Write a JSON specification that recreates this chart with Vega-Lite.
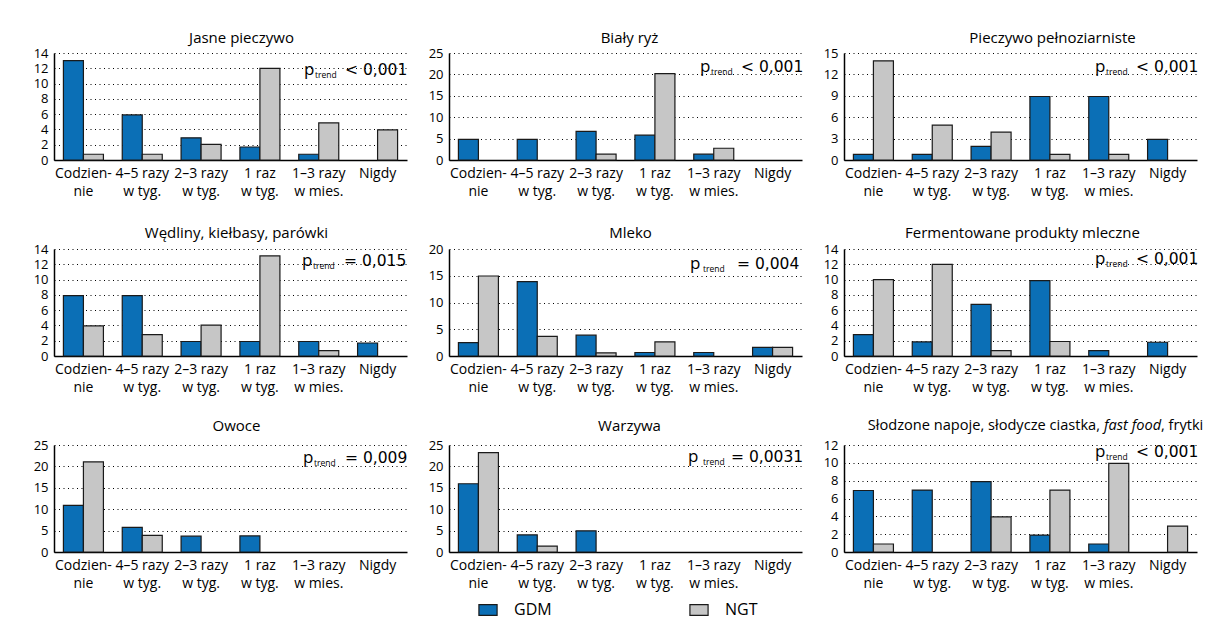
{
  "$schema": "https://vega.github.io/schema/vega-lite/v6.json",
  "background": "white",
  "padding": {"left": 33, "top": 31, "right": 5, "bottom": 5},
  "datasets": {
    "bars": [
      {"panel": "Jasne pieczywo", "freq": "Codziennie", "group": "GDM", "value": 13},
      {"panel": "Jasne pieczywo", "freq": "4–5 razy w tyg.", "group": "GDM", "value": 5.9},
      {"panel": "Jasne pieczywo", "freq": "2–3 razy w tyg.", "group": "GDM", "value": 2.9},
      {"panel": "Jasne pieczywo", "freq": "1 raz w tyg.", "group": "GDM", "value": 1.7},
      {"panel": "Jasne pieczywo", "freq": "1–3 razy w mies.", "group": "GDM", "value": 0.75},
      {"panel": "Jasne pieczywo", "freq": "Nigdy", "group": "GDM", "value": 0},
      {"panel": "Jasne pieczywo", "freq": "Codziennie", "group": "NGT", "value": 0.75},
      {"panel": "Jasne pieczywo", "freq": "4–5 razy w tyg.", "group": "NGT", "value": 0.75},
      {"panel": "Jasne pieczywo", "freq": "2–3 razy w tyg.", "group": "NGT", "value": 2.05},
      {"panel": "Jasne pieczywo", "freq": "1 raz w tyg.", "group": "NGT", "value": 12},
      {"panel": "Jasne pieczywo", "freq": "1–3 razy w mies.", "group": "NGT", "value": 4.85},
      {"panel": "Jasne pieczywo", "freq": "Nigdy", "group": "NGT", "value": 3.95},

      {"panel": "Biały ryż", "freq": "Codziennie", "group": "GDM", "value": 4.8},
      {"panel": "Biały ryż", "freq": "4–5 razy w tyg.", "group": "GDM", "value": 4.8},
      {"panel": "Biały ryż", "freq": "2–3 razy w tyg.", "group": "GDM", "value": 6.7},
      {"panel": "Biały ryż", "freq": "1 raz w tyg.", "group": "GDM", "value": 5.8},
      {"panel": "Biały ryż", "freq": "1–3 razy w mies.", "group": "GDM", "value": 1.35},
      {"panel": "Biały ryż", "freq": "Nigdy", "group": "GDM", "value": 0},
      {"panel": "Biały ryż", "freq": "Codziennie", "group": "NGT", "value": 0},
      {"panel": "Biały ryż", "freq": "4–5 razy w tyg.", "group": "NGT", "value": 0},
      {"panel": "Biały ryż", "freq": "2–3 razy w tyg.", "group": "NGT", "value": 1.35},
      {"panel": "Biały ryż", "freq": "1 raz w tyg.", "group": "NGT", "value": 20.2},
      {"panel": "Biały ryż", "freq": "1–3 razy w mies.", "group": "NGT", "value": 2.75},
      {"panel": "Biały ryż", "freq": "Nigdy", "group": "NGT", "value": 0},

      {"panel": "Pieczywo pełnoziarniste", "freq": "Codziennie", "group": "GDM", "value": 0.8},
      {"panel": "Pieczywo pełnoziarniste", "freq": "4–5 razy w tyg.", "group": "GDM", "value": 0.8},
      {"panel": "Pieczywo pełnoziarniste", "freq": "2–3 razy w tyg.", "group": "GDM", "value": 1.9},
      {"panel": "Pieczywo pełnoziarniste", "freq": "1 raz w tyg.", "group": "GDM", "value": 8.9},
      {"panel": "Pieczywo pełnoziarniste", "freq": "1–3 razy w mies.", "group": "GDM", "value": 8.9},
      {"panel": "Pieczywo pełnoziarniste", "freq": "Nigdy", "group": "GDM", "value": 2.9},
      {"panel": "Pieczywo pełnoziarniste", "freq": "Codziennie", "group": "NGT", "value": 13.9},
      {"panel": "Pieczywo pełnoziarniste", "freq": "4–5 razy w tyg.", "group": "NGT", "value": 4.9},
      {"panel": "Pieczywo pełnoziarniste", "freq": "2–3 razy w tyg.", "group": "NGT", "value": 3.9},
      {"panel": "Pieczywo pełnoziarniste", "freq": "1 raz w tyg.", "group": "NGT", "value": 0.8},
      {"panel": "Pieczywo pełnoziarniste", "freq": "1–3 razy w mies.", "group": "NGT", "value": 0.8},
      {"panel": "Pieczywo pełnoziarniste", "freq": "Nigdy", "group": "NGT", "value": 0},

      {"panel": "Wędliny, kiełbasy, parówki", "freq": "Codziennie", "group": "GDM", "value": 7.9},
      {"panel": "Wędliny, kiełbasy, parówki", "freq": "4–5 razy w tyg.", "group": "GDM", "value": 7.9},
      {"panel": "Wędliny, kiełbasy, parówki", "freq": "2–3 razy w tyg.", "group": "GDM", "value": 1.9},
      {"panel": "Wędliny, kiełbasy, parówki", "freq": "1 raz w tyg.", "group": "GDM", "value": 1.9},
      {"panel": "Wędliny, kiełbasy, parówki", "freq": "1–3 razy w mies.", "group": "GDM", "value": 1.9},
      {"panel": "Wędliny, kiełbasy, parówki", "freq": "Nigdy", "group": "GDM", "value": 1.7},
      {"panel": "Wędliny, kiełbasy, parówki", "freq": "Codziennie", "group": "NGT", "value": 3.95},
      {"panel": "Wędliny, kiełbasy, parówki", "freq": "4–5 razy w tyg.", "group": "NGT", "value": 2.8},
      {"panel": "Wędliny, kiełbasy, parówki", "freq": "2–3 razy w tyg.", "group": "NGT", "value": 4.05},
      {"panel": "Wędliny, kiełbasy, parówki", "freq": "1 raz w tyg.", "group": "NGT", "value": 13.1},
      {"panel": "Wędliny, kiełbasy, parówki", "freq": "1–3 razy w mies.", "group": "NGT", "value": 0.7},
      {"panel": "Wędliny, kiełbasy, parówki", "freq": "Nigdy", "group": "NGT", "value": 0},

      {"panel": "Mleko", "freq": "Codziennie", "group": "GDM", "value": 2.5},
      {"panel": "Mleko", "freq": "4–5 razy w tyg.", "group": "GDM", "value": 13.9},
      {"panel": "Mleko", "freq": "2–3 razy w tyg.", "group": "GDM", "value": 3.9},
      {"panel": "Mleko", "freq": "1 raz w tyg.", "group": "GDM", "value": 0.65},
      {"panel": "Mleko", "freq": "1–3 razy w mies.", "group": "GDM", "value": 0.65},
      {"panel": "Mleko", "freq": "Nigdy", "group": "GDM", "value": 1.6},
      {"panel": "Mleko", "freq": "Codziennie", "group": "NGT", "value": 14.95},
      {"panel": "Mleko", "freq": "4–5 razy w tyg.", "group": "NGT", "value": 3.65},
      {"panel": "Mleko", "freq": "2–3 razy w tyg.", "group": "NGT", "value": 0.6},
      {"panel": "Mleko", "freq": "1 raz w tyg.", "group": "NGT", "value": 2.65},
      {"panel": "Mleko", "freq": "1–3 razy w mies.", "group": "NGT", "value": 0},
      {"panel": "Mleko", "freq": "Nigdy", "group": "NGT", "value": 1.6},

      {"panel": "Fermentowane produkty mleczne", "freq": "Codziennie", "group": "GDM", "value": 2.8},
      {"panel": "Fermentowane produkty mleczne", "freq": "4–5 razy w tyg.", "group": "GDM", "value": 1.85},
      {"panel": "Fermentowane produkty mleczne", "freq": "2–3 razy w tyg.", "group": "GDM", "value": 6.75},
      {"panel": "Fermentowane produkty mleczne", "freq": "1 raz w tyg.", "group": "GDM", "value": 9.85},
      {"panel": "Fermentowane produkty mleczne", "freq": "1–3 razy w mies.", "group": "GDM", "value": 0.7},
      {"panel": "Fermentowane produkty mleczne", "freq": "Nigdy", "group": "GDM", "value": 1.8},
      {"panel": "Fermentowane produkty mleczne", "freq": "Codziennie", "group": "NGT", "value": 10},
      {"panel": "Fermentowane produkty mleczne", "freq": "4–5 razy w tyg.", "group": "NGT", "value": 12},
      {"panel": "Fermentowane produkty mleczne", "freq": "2–3 razy w tyg.", "group": "NGT", "value": 0.7},
      {"panel": "Fermentowane produkty mleczne", "freq": "1 raz w tyg.", "group": "NGT", "value": 1.9},
      {"panel": "Fermentowane produkty mleczne", "freq": "1–3 razy w mies.", "group": "NGT", "value": 0},
      {"panel": "Fermentowane produkty mleczne", "freq": "Nigdy", "group": "NGT", "value": 0},

      {"panel": "Owoce", "freq": "Codziennie", "group": "GDM", "value": 10.9},
      {"panel": "Owoce", "freq": "4–5 razy w tyg.", "group": "GDM", "value": 5.75},
      {"panel": "Owoce", "freq": "2–3 razy w tyg.", "group": "GDM", "value": 3.7},
      {"panel": "Owoce", "freq": "1 raz w tyg.", "group": "GDM", "value": 3.75},
      {"panel": "Owoce", "freq": "1–3 razy w mies.", "group": "GDM", "value": 0},
      {"panel": "Owoce", "freq": "Nigdy", "group": "GDM", "value": 0},
      {"panel": "Owoce", "freq": "Codziennie", "group": "NGT", "value": 21.05},
      {"panel": "Owoce", "freq": "4–5 razy w tyg.", "group": "NGT", "value": 3.9},
      {"panel": "Owoce", "freq": "2–3 razy w tyg.", "group": "NGT", "value": 0},
      {"panel": "Owoce", "freq": "1 raz w tyg.", "group": "NGT", "value": 0},
      {"panel": "Owoce", "freq": "1–3 razy w mies.", "group": "NGT", "value": 0},
      {"panel": "Owoce", "freq": "Nigdy", "group": "NGT", "value": 0},

      {"panel": "Warzywa", "freq": "Codziennie", "group": "GDM", "value": 15.95},
      {"panel": "Warzywa", "freq": "4–5 razy w tyg.", "group": "GDM", "value": 4},
      {"panel": "Warzywa", "freq": "2–3 razy w tyg.", "group": "GDM", "value": 4.95},
      {"panel": "Warzywa", "freq": "1 raz w tyg.", "group": "GDM", "value": 0},
      {"panel": "Warzywa", "freq": "1–3 razy w mies.", "group": "GDM", "value": 0},
      {"panel": "Warzywa", "freq": "Nigdy", "group": "GDM", "value": 0},
      {"panel": "Warzywa", "freq": "Codziennie", "group": "NGT", "value": 23.2},
      {"panel": "Warzywa", "freq": "4–5 razy w tyg.", "group": "NGT", "value": 1.35},
      {"panel": "Warzywa", "freq": "2–3 razy w tyg.", "group": "NGT", "value": 0},
      {"panel": "Warzywa", "freq": "1 raz w tyg.", "group": "NGT", "value": 0},
      {"panel": "Warzywa", "freq": "1–3 razy w mies.", "group": "NGT", "value": 0},
      {"panel": "Warzywa", "freq": "Nigdy", "group": "NGT", "value": 0},

      {"panel": "Słodzone napoje, słodycze ciastka, fast food, frytki", "freq": "Codziennie", "group": "GDM", "value": 6.9},
      {"panel": "Słodzone napoje, słodycze ciastka, fast food, frytki", "freq": "4–5 razy w tyg.", "group": "GDM", "value": 6.95},
      {"panel": "Słodzone napoje, słodycze ciastka, fast food, frytki", "freq": "2–3 razy w tyg.", "group": "GDM", "value": 7.9},
      {"panel": "Słodzone napoje, słodycze ciastka, fast food, frytki", "freq": "1 raz w tyg.", "group": "GDM", "value": 1.9},
      {"panel": "Słodzone napoje, słodycze ciastka, fast food, frytki", "freq": "1–3 razy w mies.", "group": "GDM", "value": 0.9},
      {"panel": "Słodzone napoje, słodycze ciastka, fast food, frytki", "freq": "Nigdy", "group": "GDM", "value": 0},
      {"panel": "Słodzone napoje, słodycze ciastka, fast food, frytki", "freq": "Codziennie", "group": "NGT", "value": 0.9},
      {"panel": "Słodzone napoje, słodycze ciastka, fast food, frytki", "freq": "4–5 razy w tyg.", "group": "NGT", "value": 0},
      {"panel": "Słodzone napoje, słodycze ciastka, fast food, frytki", "freq": "2–3 razy w tyg.", "group": "NGT", "value": 3.95},
      {"panel": "Słodzone napoje, słodycze ciastka, fast food, frytki", "freq": "1 raz w tyg.", "group": "NGT", "value": 6.95},
      {"panel": "Słodzone napoje, słodycze ciastka, fast food, frytki", "freq": "1–3 razy w mies.", "group": "NGT", "value": 9.95},
      {"panel": "Słodzone napoje, słodycze ciastka, fast food, frytki", "freq": "Nigdy", "group": "NGT", "value": 2.9}
    ],
    "notes": [
      {"panel": "Jasne pieczywo", "ptrend": "< 0,001"},
      {"panel": "Biały ryż", "ptrend": "< 0,001"},
      {"panel": "Pieczywo pełnoziarniste", "ptrend": "< 0,001"},
      {"panel": "Wędliny, kiełbasy, parówki", "ptrend": "= 0,015"},
      {"panel": "Mleko", "ptrend": "= 0,004"},
      {"panel": "Fermentowane produkty mleczne", "ptrend": "< 0,001"},
      {"panel": "Owoce", "ptrend": "= 0,009"},
      {"panel": "Warzywa", "ptrend": "= 0,0031"},
      {"panel": "Słodzone napoje, słodycze ciastka, fast food, frytki", "ptrend": "< 0,001"}
    ]
  },
  "columns": 3,
  "spacing": {"row": 89, "column": 42},
  "bounds": "flush",
  "concat": [
    {
      "width": 353, "height": 107,
      "title": {"text": "Jasne pieczywo", "dx": 11, "offset": 1},
      "layer": [
        {"data": {"name": "bars"}, "transform": [{"filter": "datum.panel == 'Jasne pieczywo' && datum.value > 0"}],
         "mark": {"type": "bar", "stroke": "#1a1a1a", "strokeWidth": 1.2},
         "encoding": {
           "x": {"field": "freq", "type": "nominal", "title": null, "scale": {"domain": ["Codziennie", "4–5 razy w tyg.", "2–3 razy w tyg.", "1 raz w tyg.", "1–3 razy w mies.", "Nigdy"], "paddingInner": 0.32, "paddingOuter": 0.16}, "axis": {"labelExpr": "datum.value == 'Codziennie' ? ['Codzien-', 'nie'] : datum.value == 'Nigdy' ? 'Nigdy' : [slice(datum.value, 0, indexof(datum.value, ' w ')), slice(datum.value, indexof(datum.value, ' w ') + 1)]"}},
           "xOffset": {"field": "group", "type": "nominal", "scale": {"domain": ["GDM", "NGT"], "paddingInner": 0, "paddingOuter": 0}},
           "y": {"field": "value", "type": "quantitative", "title": null, "scale": {"domain": [0, 14], "nice": false}, "axis": {"values": [0, 2, 4, 6, 8, 10, 12, 14]}},
           "color": {"field": "group", "type": "nominal", "title": null, "scale": {"domain": ["GDM", "NGT"], "range": ["#0b6fb6", "#c6c6c6"]}}
         }},
        {"data": {"name": "notes"}, "transform": [{"filter": "datum.panel == 'Jasne pieczywo'"}],
         "mark": {"type": "text", "font": "DejaVu Sans", "align": "left", "baseline": "alphabetic", "fontSize": 15.5, "dx": -62, "dy": 22},
         "encoding": {"x": {"value": "width"}, "y": {"datum": 14}, "text": {"field": "ptrend"}}},
        {"data": {"name": "notes"}, "transform": [{"filter": "datum.panel == 'Jasne pieczywo'"}],
         "mark": {"type": "text", "text": "trend", "align": "left", "baseline": "alphabetic", "fontSize": 8.5, "dx": -92, "dy": 25},
         "encoding": {"x": {"value": "width"}, "y": {"datum": 14}}},
        {"data": {"name": "notes"}, "transform": [{"filter": "datum.panel == 'Jasne pieczywo'"}],
         "mark": {"type": "text", "text": "p", "align": "left", "baseline": "alphabetic", "fontSize": 17, "dx": -103, "dy": 22},
         "encoding": {"x": {"value": "width"}, "y": {"datum": 14}}}
      ]
    },
    {
      "width": 353, "height": 107,
      "title": {"text": "Biały ryż", "dx": 4, "offset": 1},
      "layer": [
        {"data": {"name": "bars"}, "transform": [{"filter": "datum.panel == 'Biały ryż' && datum.value > 0"}],
         "mark": {"type": "bar", "stroke": "#1a1a1a", "strokeWidth": 1.2},
         "encoding": {
           "x": {"field": "freq", "type": "nominal", "title": null, "scale": {"domain": ["Codziennie", "4–5 razy w tyg.", "2–3 razy w tyg.", "1 raz w tyg.", "1–3 razy w mies.", "Nigdy"], "paddingInner": 0.32, "paddingOuter": 0.16}, "axis": {"labelExpr": "datum.value == 'Codziennie' ? ['Codzien-', 'nie'] : datum.value == 'Nigdy' ? 'Nigdy' : [slice(datum.value, 0, indexof(datum.value, ' w ')), slice(datum.value, indexof(datum.value, ' w ') + 1)]"}},
           "xOffset": {"field": "group", "type": "nominal", "scale": {"domain": ["GDM", "NGT"], "paddingInner": 0, "paddingOuter": 0}},
           "y": {"field": "value", "type": "quantitative", "title": null, "scale": {"domain": [0, 25], "nice": false}, "axis": {"values": [0, 5, 10, 15, 20, 25]}},
           "color": {"field": "group", "type": "nominal", "title": null, "scale": {"domain": ["GDM", "NGT"], "range": ["#0b6fb6", "#c6c6c6"]}}
         }},
        {"data": {"name": "notes"}, "transform": [{"filter": "datum.panel == 'Biały ryż'"}],
         "mark": {"type": "text", "font": "DejaVu Sans", "align": "left", "baseline": "alphabetic", "fontSize": 15.5, "dx": -61, "dy": 19},
         "encoding": {"x": {"value": "width"}, "y": {"datum": 25}, "text": {"field": "ptrend"}}},
        {"data": {"name": "notes"}, "transform": [{"filter": "datum.panel == 'Biały ryż'"}],
         "mark": {"type": "text", "text": "trend", "align": "left", "baseline": "alphabetic", "fontSize": 8.5, "dx": -91, "dy": 22},
         "encoding": {"x": {"value": "width"}, "y": {"datum": 25}}},
        {"data": {"name": "notes"}, "transform": [{"filter": "datum.panel == 'Biały ryż'"}],
         "mark": {"type": "text", "text": "p", "align": "left", "baseline": "alphabetic", "fontSize": 17, "dx": -102, "dy": 19},
         "encoding": {"x": {"value": "width"}, "y": {"datum": 25}}}
      ]
    },
    {
      "width": 353, "height": 107,
      "title": {"text": "Pieczywo pełnoziarniste", "dx": 32, "offset": 1},
      "layer": [
        {"data": {"name": "bars"}, "transform": [{"filter": "datum.panel == 'Pieczywo pełnoziarniste' && datum.value > 0"}],
         "mark": {"type": "bar", "stroke": "#1a1a1a", "strokeWidth": 1.2},
         "encoding": {
           "x": {"field": "freq", "type": "nominal", "title": null, "scale": {"domain": ["Codziennie", "4–5 razy w tyg.", "2–3 razy w tyg.", "1 raz w tyg.", "1–3 razy w mies.", "Nigdy"], "paddingInner": 0.32, "paddingOuter": 0.16}, "axis": {"labelExpr": "datum.value == 'Codziennie' ? ['Codzien-', 'nie'] : datum.value == 'Nigdy' ? 'Nigdy' : [slice(datum.value, 0, indexof(datum.value, ' w ')), slice(datum.value, indexof(datum.value, ' w ') + 1)]"}},
           "xOffset": {"field": "group", "type": "nominal", "scale": {"domain": ["GDM", "NGT"], "paddingInner": 0, "paddingOuter": 0}},
           "y": {"field": "value", "type": "quantitative", "title": null, "scale": {"domain": [0, 15], "nice": false}, "axis": {"values": [0, 3, 6, 9, 12, 15]}},
           "color": {"field": "group", "type": "nominal", "title": null, "scale": {"domain": ["GDM", "NGT"], "range": ["#0b6fb6", "#c6c6c6"]}}
         }},
        {"data": {"name": "notes"}, "transform": [{"filter": "datum.panel == 'Pieczywo pełnoziarniste'"}],
         "mark": {"type": "text", "font": "DejaVu Sans", "align": "left", "baseline": "alphabetic", "fontSize": 15.5, "dx": -61, "dy": 19},
         "encoding": {"x": {"value": "width"}, "y": {"datum": 15}, "text": {"field": "ptrend"}}},
        {"data": {"name": "notes"}, "transform": [{"filter": "datum.panel == 'Pieczywo pełnoziarniste'"}],
         "mark": {"type": "text", "text": "trend", "align": "left", "baseline": "alphabetic", "fontSize": 8.5, "dx": -91, "dy": 22},
         "encoding": {"x": {"value": "width"}, "y": {"datum": 15}}},
        {"data": {"name": "notes"}, "transform": [{"filter": "datum.panel == 'Pieczywo pełnoziarniste'"}],
         "mark": {"type": "text", "text": "p", "align": "left", "baseline": "alphabetic", "fontSize": 17, "dx": -102, "dy": 19},
         "encoding": {"x": {"value": "width"}, "y": {"datum": 15}}}
      ]
    },
    {
      "width": 353, "height": 107,
      "title": {"text": "Wędliny, kiełbasy, parówki", "dx": 6, "offset": 2},
      "layer": [
        {"data": {"name": "bars"}, "transform": [{"filter": "datum.panel == 'Wędliny, kiełbasy, parówki' && datum.value > 0"}],
         "mark": {"type": "bar", "stroke": "#1a1a1a", "strokeWidth": 1.2},
         "encoding": {
           "x": {"field": "freq", "type": "nominal", "title": null, "scale": {"domain": ["Codziennie", "4–5 razy w tyg.", "2–3 razy w tyg.", "1 raz w tyg.", "1–3 razy w mies.", "Nigdy"], "paddingInner": 0.32, "paddingOuter": 0.16}, "axis": {"labelExpr": "datum.value == 'Codziennie' ? ['Codzien-', 'nie'] : datum.value == 'Nigdy' ? 'Nigdy' : [slice(datum.value, 0, indexof(datum.value, ' w ')), slice(datum.value, indexof(datum.value, ' w ') + 1)]"}},
           "xOffset": {"field": "group", "type": "nominal", "scale": {"domain": ["GDM", "NGT"], "paddingInner": 0, "paddingOuter": 0}},
           "y": {"field": "value", "type": "quantitative", "title": null, "scale": {"domain": [0, 14], "nice": false}, "axis": {"values": [0, 2, 4, 6, 8, 10, 12, 14]}},
           "color": {"field": "group", "type": "nominal", "title": null, "scale": {"domain": ["GDM", "NGT"], "range": ["#0b6fb6", "#c6c6c6"]}}
         }},
        {"data": {"name": "notes"}, "transform": [{"filter": "datum.panel == 'Wędliny, kiełbasy, parówki'"}],
         "mark": {"type": "text", "font": "DejaVu Sans", "align": "left", "baseline": "alphabetic", "fontSize": 15.5, "dx": -63, "dy": 17},
         "encoding": {"x": {"value": "width"}, "y": {"datum": 14}, "text": {"field": "ptrend"}}},
        {"data": {"name": "notes"}, "transform": [{"filter": "datum.panel == 'Wędliny, kiełbasy, parówki'"}],
         "mark": {"type": "text", "text": "trend", "align": "left", "baseline": "alphabetic", "fontSize": 8.5, "dx": -94, "dy": 20},
         "encoding": {"x": {"value": "width"}, "y": {"datum": 14}}},
        {"data": {"name": "notes"}, "transform": [{"filter": "datum.panel == 'Wędliny, kiełbasy, parówki'"}],
         "mark": {"type": "text", "text": "p", "align": "left", "baseline": "alphabetic", "fontSize": 17, "dx": -105, "dy": 17},
         "encoding": {"x": {"value": "width"}, "y": {"datum": 14}}}
      ]
    },
    {
      "width": 353, "height": 107,
      "title": {"text": "Mleko", "dx": 5, "offset": 2},
      "layer": [
        {"data": {"name": "bars"}, "transform": [{"filter": "datum.panel == 'Mleko' && datum.value > 0"}],
         "mark": {"type": "bar", "stroke": "#1a1a1a", "strokeWidth": 1.2},
         "encoding": {
           "x": {"field": "freq", "type": "nominal", "title": null, "scale": {"domain": ["Codziennie", "4–5 razy w tyg.", "2–3 razy w tyg.", "1 raz w tyg.", "1–3 razy w mies.", "Nigdy"], "paddingInner": 0.32, "paddingOuter": 0.16}, "axis": {"labelExpr": "datum.value == 'Codziennie' ? ['Codzien-', 'nie'] : datum.value == 'Nigdy' ? 'Nigdy' : [slice(datum.value, 0, indexof(datum.value, ' w ')), slice(datum.value, indexof(datum.value, ' w ') + 1)]"}},
           "xOffset": {"field": "group", "type": "nominal", "scale": {"domain": ["GDM", "NGT"], "paddingInner": 0, "paddingOuter": 0}},
           "y": {"field": "value", "type": "quantitative", "title": null, "scale": {"domain": [0, 20], "nice": false}, "axis": {"values": [0, 5, 10, 15, 20]}},
           "color": {"field": "group", "type": "nominal", "title": null, "scale": {"domain": ["GDM", "NGT"], "range": ["#0b6fb6", "#c6c6c6"]}}
         }},
        {"data": {"name": "notes"}, "transform": [{"filter": "datum.panel == 'Mleko'"}],
         "mark": {"type": "text", "font": "DejaVu Sans", "align": "left", "baseline": "alphabetic", "fontSize": 15.5, "dx": -65, "dy": 20},
         "encoding": {"x": {"value": "width"}, "y": {"datum": 20}, "text": {"field": "ptrend"}}},
        {"data": {"name": "notes"}, "transform": [{"filter": "datum.panel == 'Mleko'"}],
         "mark": {"type": "text", "text": "trend", "align": "left", "baseline": "alphabetic", "fontSize": 8.5, "dx": -99, "dy": 23},
         "encoding": {"x": {"value": "width"}, "y": {"datum": 20}}},
        {"data": {"name": "notes"}, "transform": [{"filter": "datum.panel == 'Mleko'"}],
         "mark": {"type": "text", "text": "p", "align": "left", "baseline": "alphabetic", "fontSize": 17, "dx": -112, "dy": 20},
         "encoding": {"x": {"value": "width"}, "y": {"datum": 20}}}
      ]
    },
    {
      "width": 353, "height": 107,
      "title": {"text": "Fermentowane produkty mleczne", "dx": 2, "offset": 2},
      "layer": [
        {"data": {"name": "bars"}, "transform": [{"filter": "datum.panel == 'Fermentowane produkty mleczne' && datum.value > 0"}],
         "mark": {"type": "bar", "stroke": "#1a1a1a", "strokeWidth": 1.2},
         "encoding": {
           "x": {"field": "freq", "type": "nominal", "title": null, "scale": {"domain": ["Codziennie", "4–5 razy w tyg.", "2–3 razy w tyg.", "1 raz w tyg.", "1–3 razy w mies.", "Nigdy"], "paddingInner": 0.32, "paddingOuter": 0.16}, "axis": {"labelExpr": "datum.value == 'Codziennie' ? ['Codzien-', 'nie'] : datum.value == 'Nigdy' ? 'Nigdy' : [slice(datum.value, 0, indexof(datum.value, ' w ')), slice(datum.value, indexof(datum.value, ' w ') + 1)]"}},
           "xOffset": {"field": "group", "type": "nominal", "scale": {"domain": ["GDM", "NGT"], "paddingInner": 0, "paddingOuter": 0}},
           "y": {"field": "value", "type": "quantitative", "title": null, "scale": {"domain": [0, 14], "nice": false}, "axis": {"values": [0, 2, 4, 6, 8, 10, 12, 14]}},
           "color": {"field": "group", "type": "nominal", "title": null, "scale": {"domain": ["GDM", "NGT"], "range": ["#0b6fb6", "#c6c6c6"]}}
         }},
        {"data": {"name": "notes"}, "transform": [{"filter": "datum.panel == 'Fermentowane produkty mleczne'"}],
         "mark": {"type": "text", "font": "DejaVu Sans", "align": "left", "baseline": "alphabetic", "fontSize": 15.5, "dx": -61, "dy": 15},
         "encoding": {"x": {"value": "width"}, "y": {"datum": 14}, "text": {"field": "ptrend"}}},
        {"data": {"name": "notes"}, "transform": [{"filter": "datum.panel == 'Fermentowane produkty mleczne'"}],
         "mark": {"type": "text", "text": "trend", "align": "left", "baseline": "alphabetic", "fontSize": 8.5, "dx": -91, "dy": 18},
         "encoding": {"x": {"value": "width"}, "y": {"datum": 14}}},
        {"data": {"name": "notes"}, "transform": [{"filter": "datum.panel == 'Fermentowane produkty mleczne'"}],
         "mark": {"type": "text", "text": "p", "align": "left", "baseline": "alphabetic", "fontSize": 17, "dx": -102, "dy": 15},
         "encoding": {"x": {"value": "width"}, "y": {"datum": 14}}}
      ]
    },
    {
      "width": 353, "height": 107,
      "title": {"text": "Owoce", "dx": 6, "offset": 5},
      "layer": [
        {"data": {"name": "bars"}, "transform": [{"filter": "datum.panel == 'Owoce' && datum.value > 0"}],
         "mark": {"type": "bar", "stroke": "#1a1a1a", "strokeWidth": 1.2},
         "encoding": {
           "x": {"field": "freq", "type": "nominal", "title": null, "scale": {"domain": ["Codziennie", "4–5 razy w tyg.", "2–3 razy w tyg.", "1 raz w tyg.", "1–3 razy w mies.", "Nigdy"], "paddingInner": 0.32, "paddingOuter": 0.16}, "axis": {"labelExpr": "datum.value == 'Codziennie' ? ['Codzien-', 'nie'] : datum.value == 'Nigdy' ? 'Nigdy' : [slice(datum.value, 0, indexof(datum.value, ' w ')), slice(datum.value, indexof(datum.value, ' w ') + 1)]"}},
           "xOffset": {"field": "group", "type": "nominal", "scale": {"domain": ["GDM", "NGT"], "paddingInner": 0, "paddingOuter": 0}},
           "y": {"field": "value", "type": "quantitative", "title": null, "scale": {"domain": [0, 25], "nice": false}, "axis": {"values": [0, 5, 10, 15, 20, 25]}},
           "color": {"field": "group", "type": "nominal", "title": null, "scale": {"domain": ["GDM", "NGT"], "range": ["#0b6fb6", "#c6c6c6"]}}
         }},
        {"data": {"name": "notes"}, "transform": [{"filter": "datum.panel == 'Owoce'"}],
         "mark": {"type": "text", "font": "DejaVu Sans", "align": "left", "baseline": "alphabetic", "fontSize": 15.5, "dx": -62, "dy": 18},
         "encoding": {"x": {"value": "width"}, "y": {"datum": 25}, "text": {"field": "ptrend"}}},
        {"data": {"name": "notes"}, "transform": [{"filter": "datum.panel == 'Owoce'"}],
         "mark": {"type": "text", "text": "trend", "align": "left", "baseline": "alphabetic", "fontSize": 8.5, "dx": -93, "dy": 21},
         "encoding": {"x": {"value": "width"}, "y": {"datum": 25}}},
        {"data": {"name": "notes"}, "transform": [{"filter": "datum.panel == 'Owoce'"}],
         "mark": {"type": "text", "text": "p", "align": "left", "baseline": "alphabetic", "fontSize": 17, "dx": -104, "dy": 18},
         "encoding": {"x": {"value": "width"}, "y": {"datum": 25}}}
      ]
    },
    {
      "width": 353, "height": 107,
      "title": {"text": "Warzywa", "dx": 4, "offset": 5},
      "layer": [
        {"data": {"name": "bars"}, "transform": [{"filter": "datum.panel == 'Warzywa' && datum.value > 0"}],
         "mark": {"type": "bar", "stroke": "#1a1a1a", "strokeWidth": 1.2},
         "encoding": {
           "x": {"field": "freq", "type": "nominal", "title": null, "scale": {"domain": ["Codziennie", "4–5 razy w tyg.", "2–3 razy w tyg.", "1 raz w tyg.", "1–3 razy w mies.", "Nigdy"], "paddingInner": 0.32, "paddingOuter": 0.16}, "axis": {"labelExpr": "datum.value == 'Codziennie' ? ['Codzien-', 'nie'] : datum.value == 'Nigdy' ? 'Nigdy' : [slice(datum.value, 0, indexof(datum.value, ' w ')), slice(datum.value, indexof(datum.value, ' w ') + 1)]"}},
           "xOffset": {"field": "group", "type": "nominal", "scale": {"domain": ["GDM", "NGT"], "paddingInner": 0, "paddingOuter": 0}},
           "y": {"field": "value", "type": "quantitative", "title": null, "scale": {"domain": [0, 25], "nice": false}, "axis": {"values": [0, 5, 10, 15, 20, 25]}},
           "color": {"field": "group", "type": "nominal", "title": null, "scale": {"domain": ["GDM", "NGT"], "range": ["#0b6fb6", "#c6c6c6"]}}
         }},
        {"data": {"name": "notes"}, "transform": [{"filter": "datum.panel == 'Warzywa'"}],
         "mark": {"type": "text", "font": "DejaVu Sans", "align": "left", "baseline": "alphabetic", "fontSize": 15.5, "dx": -71, "dy": 17},
         "encoding": {"x": {"value": "width"}, "y": {"datum": 25}, "text": {"field": "ptrend"}}},
        {"data": {"name": "notes"}, "transform": [{"filter": "datum.panel == 'Warzywa'"}],
         "mark": {"type": "text", "text": "trend", "align": "left", "baseline": "alphabetic", "fontSize": 8.5, "dx": -99, "dy": 20},
         "encoding": {"x": {"value": "width"}, "y": {"datum": 25}}},
        {"data": {"name": "notes"}, "transform": [{"filter": "datum.panel == 'Warzywa'"}],
         "mark": {"type": "text", "text": "p", "align": "left", "baseline": "alphabetic", "fontSize": 17, "dx": -114, "dy": 17},
         "encoding": {"x": {"value": "width"}, "y": {"datum": 25}}}
      ]
    },
    {
      "width": 353, "height": 107,
      "layer": [
        {"data": {"name": "bars"}, "transform": [{"filter": "datum.panel == 'Słodzone napoje, słodycze ciastka, fast food, frytki' && datum.value > 0"}],
         "mark": {"type": "bar", "stroke": "#1a1a1a", "strokeWidth": 1.2},
         "encoding": {
           "x": {"field": "freq", "type": "nominal", "title": null, "scale": {"domain": ["Codziennie", "4–5 razy w tyg.", "2–3 razy w tyg.", "1 raz w tyg.", "1–3 razy w mies.", "Nigdy"], "paddingInner": 0.32, "paddingOuter": 0.16}, "axis": {"labelExpr": "datum.value == 'Codziennie' ? ['Codzien-', 'nie'] : datum.value == 'Nigdy' ? 'Nigdy' : [slice(datum.value, 0, indexof(datum.value, ' w ')), slice(datum.value, indexof(datum.value, ' w ') + 1)]"}},
           "xOffset": {"field": "group", "type": "nominal", "scale": {"domain": ["GDM", "NGT"], "paddingInner": 0, "paddingOuter": 0}},
           "y": {"field": "value", "type": "quantitative", "title": null, "scale": {"domain": [0, 12], "nice": false}, "axis": {"values": [0, 2, 4, 6, 8, 10, 12]}},
           "color": {"field": "group", "type": "nominal", "title": null, "scale": {"domain": ["GDM", "NGT"], "range": ["#0b6fb6", "#c6c6c6"]}}
         }},
        {"data": {"name": "notes"}, "transform": [{"filter": "datum.panel == 'Słodzone napoje, słodycze ciastka, fast food, frytki'"}],
         "mark": {"type": "text", "font": "DejaVu Sans", "align": "left", "baseline": "alphabetic", "fontSize": 15.5, "dx": -61, "dy": 12},
         "encoding": {"x": {"value": "width"}, "y": {"datum": 12}, "text": {"field": "ptrend"}}},
        {"data": {"name": "notes"}, "transform": [{"filter": "datum.panel == 'Słodzone napoje, słodycze ciastka, fast food, frytki'"}],
         "mark": {"type": "text", "text": "trend", "align": "left", "baseline": "alphabetic", "fontSize": 8.5, "dx": -91, "dy": 15},
         "encoding": {"x": {"value": "width"}, "y": {"datum": 12}}},
        {"data": {"name": "notes"}, "transform": [{"filter": "datum.panel == 'Słodzone napoje, słodycze ciastka, fast food, frytki'"}],
         "mark": {"type": "text", "text": "p", "align": "left", "baseline": "alphabetic", "fontSize": 17, "dx": -102, "dy": 12},
         "encoding": {"x": {"value": "width"}, "y": {"datum": 12}}},
        {"data": {"name": "notes"}, "transform": [{"filter": "datum.panel == 'Słodzone napoje, słodycze ciastka, fast food, frytki'"}],
         "mark": {"type": "text", "text": "Słodzone napoje, słodycze ciastka,", "align": "right", "baseline": "alphabetic", "fontSize": 14.6, "dx": -97, "dy": -15},
         "encoding": {"x": {"value": "width"}, "y": {"datum": 12}}},
        {"data": {"name": "notes"}, "transform": [{"filter": "datum.panel == 'Słodzone napoje, słodycze ciastka, fast food, frytki'"}],
         "mark": {"type": "text", "text": "fast food", "fontStyle": "italic", "align": "left", "baseline": "alphabetic", "fontSize": 14.6, "dx": -93, "dy": -15},
         "encoding": {"x": {"value": "width"}, "y": {"datum": 12}}},
        {"data": {"name": "notes"}, "transform": [{"filter": "datum.panel == 'Słodzone napoje, słodycze ciastka, fast food, frytki'"}],
         "mark": {"type": "text", "text": ", frytki", "align": "left", "baseline": "alphabetic", "fontSize": 14.6, "dx": -36, "dy": -15},
         "encoding": {"x": {"value": "width"}, "y": {"datum": 12}}}
      ]
    }
  ],
  "config": {
    "font": "Open Sans",
    "view": {"stroke": null},
    "text": {"font": "Open Sans", "color": "#000"},
    "title": {"font": "Open Sans", "fontSize": 15, "fontWeight": "normal", "color": "#000", "frame": "group", "anchor": "middle", "baseline": "alphabetic"},
    "axis": {"labelFont": "Open Sans", "labelColor": "#000", "domainColor": "#000", "domainWidth": 1.5, "ticks": false},
    "axisX": {"grid": false, "labelFontSize": 14, "labelLineHeight": 18, "labelPadding": 6, "labelAngle": 0, "labelOverlap": false},
    "axisY": {"grid": true, "gridColor": "#000", "gridDash": [1, 3.5], "gridWidth": 1, "gridOpacity": 1, "labelFontSize": 13, "labelPadding": 6, "tickCount": 20, "labelOverlap": false, "format": "d"},
    "legend": {"orient": "bottom", "direction": "horizontal", "title": null, "symbolType": "M-1,-0.6H1V0.6H-1Z", "symbolSize": 330, "symbolStrokeColor": "#1a1a1a", "symbolStrokeWidth": 1.2, "labelFont": "Open Sans", "labelFontSize": 16, "labelColor": "#000", "labelOffset": 16, "columnPadding": 135, "offset": 10, "layout": {"bottom": {"anchor": "middle"}}}
  }
}
